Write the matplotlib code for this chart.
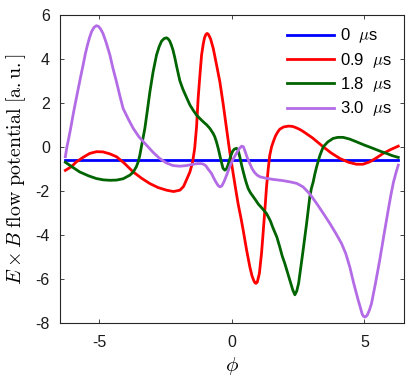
import matplotlib
matplotlib.use("Agg")
import matplotlib.pyplot as plt

plt.rcParams['font.family'] = ['Liberation Sans', 'DejaVu Sans']
plt.rcParams['mathtext.fontset'] = 'cm'
plt.rcParams['axes.unicode_minus'] = False

# ---- data ----
labels = ["0  $\\mu$s", "0.9  $\\mu$s", "1.8  $\\mu$s", "3.0  $\\mu$s"]
colors = ["#0000ff", "#ff0000", "#006400", "#b36be6"]

x_0 = [-6.28, 6.28]
y_0 = [-0.58, -0.58]

x_09 = [-6.28, -6.05, -5.86, -5.6, -5.36, -5.1, -4.86, -4.6, -4.35, -4.05, -3.72, -3.4,
        -3.09, -2.78, -2.46, -2.2, -1.96, -1.82, -1.71, -1.58, -1.48, -1.4, -1.33, -1.27,
        -1.2, -1.14, -1.08, -1.03, -0.98, -0.93, -0.88, -0.8, -0.7, -0.58, -0.45, -0.32,
        -0.2, -0.08, 0.05, 0.15, 0.24, 0.34, 0.43, 0.56, 0.68, 0.76, 0.82, 0.87, 0.91,
        0.96, 1.04, 1.12, 1.17, 1.22, 1.27, 1.31, 1.37, 1.43, 1.5, 1.58, 1.65, 1.73, 1.81,
        1.95, 2.13, 2.28, 2.4, 2.55, 2.69, 2.87, 3.05, 3.25, 3.45, 3.75, 4.08, 4.4, 4.7,
        4.95, 5.21, 5.46, 5.71, 6.0, 6.28]
y_09 = [-1.07, -0.9, -0.68, -0.47, -0.3, -0.22, -0.23, -0.32, -0.45, -0.75, -1.14, -1.43,
        -1.67, -1.85, -1.97, -2.03, -1.97, -1.8, -1.5, -1.14, -0.7, -0.07, 0.9, 2.2,
        3.3, 4.17, 4.65, 4.95, 5.1, 5.15, 5.1, 4.9, 4.47, 3.75, 2.95, 1.9,
        0.84, -0.2, -1.2, -1.95, -2.6, -3.2, -3.79, -4.7, -5.45, -5.85, -6.05, -6.17, -6.2,
        -6.15, -5.75, -4.85, -4.1, -3.3, -2.5, -1.82, -1.05, -0.4, 0.0, 0.28, 0.5, 0.67, 0.8,
        0.9, 0.94, 0.93, 0.88, 0.8, 0.7, 0.55, 0.4, 0.2, 0.0, -0.28, -0.53, -0.7, -0.79,
        -0.79, -0.68, -0.5, -0.3, -0.12, 0.03]

x_18 = [-6.28, -6.0, -5.74, -5.4, -5.11, -4.85, -4.6, -4.35, -4.1, -3.85, -3.72, -3.6,
        -3.53, -3.47, -3.38, -3.28, -3.18, -3.09, -2.97, -2.84, -2.74, -2.65, -2.55, -2.46,
        -2.4, -2.34, -2.28, -2.22, -2.15, -2.09, -1.96, -1.84, -1.7, -1.58, -1.45, -1.33,
        -1.2, -1.08, -0.95, -0.83, -0.7, -0.64, -0.58, -0.51, -0.45, -0.38, -0.33, -0.26,
        -0.2, -0.15, -0.05, 0.03, 0.1, 0.18, 0.23, 0.28, 0.33, 0.37, 0.43, 0.49, 0.55, 0.62,
        0.7, 0.8, 0.9, 1.0, 1.15, 1.31, 1.45, 1.56, 1.7, 1.81, 1.9, 2.0, 2.1, 2.19, 2.3,
        2.38, 2.45, 2.52, 2.6, 2.69, 2.76, 2.82, 2.88, 2.94, 3.0, 3.07, 3.13, 3.2, 3.32,
        3.45, 3.62, 3.82, 4.0, 4.2, 4.45, 4.7, 5.0, 5.33, 5.6, 5.84, 6.05, 6.28]
y_18 = [-0.7, -0.93, -1.14, -1.32, -1.44, -1.5, -1.52, -1.51, -1.45, -1.29, -1.15, -0.9,
        -0.68, -0.38, 0.2, 0.84, 1.7, 2.5, 3.4, 4.17, 4.55, 4.8, 4.92, 4.95,
        4.9, 4.8, 4.62, 4.4, 4.05, 3.7, 3.0, 2.6, 2.22, 1.9, 1.65, 1.44,
        1.28, 1.14, 1.0, 0.84, 0.6, 0.45, 0.23, -0.08, -0.4, -0.75, -0.98, -1.06,
        -1.0, -0.85, -0.45, -0.2, -0.1, -0.07, -0.12, -0.35, -0.6, -0.83, -1.12, -1.4, -1.65, -1.9,
        -2.08, -2.25, -2.42, -2.6, -2.8, -3.03, -3.35, -3.7, -4.1, -4.55, -4.95, -5.3, -5.7, -6.06, -6.5,
        -6.72, -6.55, -6.2, -5.5, -4.7, -4.05, -3.5, -2.9, -2.3, -1.9, -1.6, -1.25, -0.91, -0.4,
        0.0, 0.22, 0.38, 0.43, 0.43, 0.35, 0.23, 0.08, -0.07, -0.2, -0.3, -0.4, -0.48]

x_30 = [-6.28, -6.22, -6.15, -6.07, -5.99, -5.9, -5.8, -5.7, -5.61, -5.53, -5.45, -5.37,
        -5.29, -5.2, -5.11, -5.03, -4.95, -4.86, -4.73, -4.6, -4.48, -4.35, -4.22, -4.1,
        -3.9, -3.72, -3.5, -3.22, -2.97, -2.72, -2.47, -2.22, -1.96, -1.71, -1.5, -1.3,
        -1.18, -1.08, -0.98, -0.9, -0.77, -0.68, -0.6, -0.52, -0.45, -0.38, -0.3, -0.2,
        -0.08, 0.03, 0.15, 0.27, 0.37, 0.44, 0.5, 0.58, 0.68, 0.76, 0.85, 0.95, 1.06, 1.3,
        1.56, 1.9, 2.19, 2.45, 2.69, 2.95, 3.2, 3.45, 3.7, 3.92, 4.14, 4.3, 4.45, 4.6,
        4.77, 4.85, 4.92, 4.97, 5.02, 5.07, 5.12, 5.19, 5.27, 5.42, 5.58, 5.74, 5.9, 6.0,
        6.1, 6.2, 6.28]
y_30 = [-0.45, 0.0, 0.4, 0.9, 1.44, 2.0, 2.6, 3.2, 3.71, 4.2, 4.6, 4.95,
        5.23, 5.42, 5.5, 5.47, 5.35, 5.15, 4.7, 4.17, 3.55, 2.95, 2.3, 1.74,
        1.25, 0.84, 0.45, 0.08, -0.25, -0.53, -0.73, -0.85, -0.88, -0.85, -0.8, -0.76,
        -0.76, -0.78, -0.86, -1.0, -1.2, -1.42, -1.6, -1.75, -1.82, -1.78, -1.6, -1.3,
        -0.91, -0.6, -0.35, -0.1, 0.03, 0.0, -0.2, -0.48, -0.76, -0.98, -1.15, -1.28, -1.36, -1.43,
        -1.48, -1.53, -1.59, -1.66, -1.82, -2.15, -2.57, -3.02, -3.48, -3.92, -4.39, -4.85, -5.45, -6.2,
        -6.97, -7.3, -7.6, -7.7, -7.73, -7.7, -7.62, -7.42, -7.12, -6.2, -5.15, -4.0, -2.88, -2.2,
        -1.6, -1.15, -0.83]

xs = [x_0, x_09, x_18, x_30]
ys = [y_0, y_09, y_18, y_30]

x_ticks = [-5, 0, 5]
y_ticks = [-8, -6, -4, -2, 0, 2, 4, 6]

# ---- figure ----
fig = plt.figure(figsize=(4.09, 3.82), dpi=100)
ax = fig.add_axes([0.1455, 0.1545, 0.8425, 0.807])

for x, y, c, lab in zip(xs, ys, colors, labels):
    ax.plot(x, y, color=c, lw=2.0, label=lab, solid_joinstyle='round')

ax.set_xlim(-6.5, 6.5)
ax.set_ylim(-8, 6)
ax.set_xticks(x_ticks)
ax.set_yticks(y_ticks)
ax.tick_params(direction='in', length=3, width=0.6, top=True, right=True,
               labelsize=11.5, colors='#262626', labelcolor='#1a1a1a')
ax.tick_params(axis='x', pad=9)
ax.tick_params(axis='y', pad=7)
for s in ax.spines.values():
    s.set_color('#262626')
    s.set_linewidth(0.8)

ax.set_xlabel(r"$\phi$", fontsize=15, labelpad=3)
ax.set_ylabel(r"$E\times B\ \mathrm{flow\ potential\ [a.u.]}$", fontsize=14.3, labelpad=5)

leg = ax.legend(loc='upper right', frameon=False, fontsize=12, handlelength=2.8,
                handletextpad=0.4, labelspacing=0.32, borderaxespad=0.3)

fig.savefig("out.png", dpi=100)
